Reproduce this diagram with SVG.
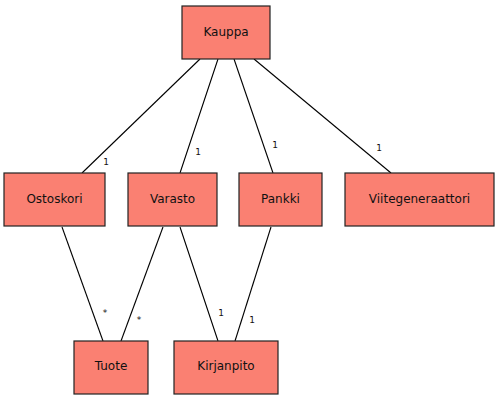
<svg xmlns="http://www.w3.org/2000/svg" width="500" height="400" viewBox="0 0 500 400">
<style>
.n rect{fill:#FA8072;stroke:#222;stroke-width:1.2}
.n text{font-family:"DejaVu Sans",sans-serif;font-size:12px;fill:#111;text-anchor:middle}
.c line{stroke:#000;stroke-width:1.1}
.c text{font-family:"DejaVu Sans",sans-serif;font-size:9px;fill:#111;text-anchor:middle}
</style>
<rect width="500" height="400" fill="#fff"/>
<g class="c" id="connectors">
<line x1="200" y1="59" x2="82" y2="173"/>
<line x1="218" y1="59" x2="180" y2="173"/>
<line x1="234" y1="59" x2="273" y2="173"/>
<line x1="254" y1="59" x2="391" y2="173"/>
<line x1="62" y1="227" x2="103" y2="341"/>
<line x1="163" y1="227" x2="121" y2="341"/>
<line x1="180" y1="227" x2="218" y2="341"/>
<line x1="271" y1="227" x2="235" y2="341"/>
<text x="106" y="165">1</text>
<text x="198" y="155">1</text>
<text x="275" y="148">1</text>
<text x="379" y="151">1</text>
<text x="105" y="316">*</text>
<text x="139" y="323">*</text>
<text x="221" y="316">1</text>
<text x="252" y="323">1</text>
</g>
<g class="n" id="Kauppa"><rect x="182" y="6" width="88" height="53"/><text x="226" y="36">Kauppa</text></g>
<g class="n" id="Ostoskori"><rect x="4" y="173" width="101" height="53"/><text x="54.5" y="203">Ostoskori</text></g>
<g class="n" id="Varasto"><rect x="128" y="173" width="89" height="53"/><text x="172.5" y="203">Varasto</text></g>
<g class="n" id="Pankki"><rect x="239" y="173" width="83" height="53"/><text x="280.5" y="203">Pankki</text></g>
<g class="n" id="Viitegeneraattori"><rect x="345" y="173" width="149" height="53"/><text x="419.5" y="203">Viitegeneraattori</text></g>
<g class="n" id="Tuote"><rect x="74" y="341" width="74" height="53"/><text x="111" y="370">Tuote</text></g>
<g class="n" id="Kirjanpito"><rect x="174" y="341" width="104" height="53"/><text x="226" y="370">Kirjanpito</text></g>
</svg>
